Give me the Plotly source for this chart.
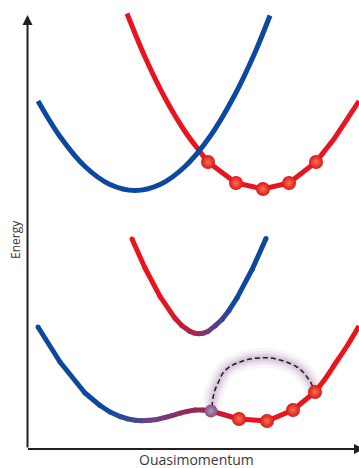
import plotly.graph_objects as go

# ---- Schematic band structure: quasimomentum k vs energy E (arbitrary units) ----

# Upper panel: two uncoupled bands
blue_k = [38, 60, 85, 110, 135, 160, 185, 210, 235, 255, 270]
blue_E = [367, 331.5, 301.5, 283.5, 277.5, 283.5, 301.5, 331.5, 373.5, 415.5, 452.5]

red_left_k = [127, 145, 165, 185, 199, 208]
red_left_E = [454.5, 411, 370, 336.5, 317.6, 306]
lattice_k = [208, 236, 263, 289, 316]
lattice_E = [306, 285, 279, 285, 306]
red_right_k = [316, 325, 335, 345, 359]
red_right_E = [306, 317.6, 330.5, 345.6, 367]

# Lower panel: coupled bands (avoided crossing)
upper_k = [132, 145, 160, 175, 182, 190, 195, 199, 203, 208, 215, 222, 229, 237, 252, 266]
upper_E = [229, 200, 171.6, 149.7, 142.3, 136.6, 134.7, 134.2, 134.7, 136.6, 142.1,
           148.5, 157.6, 170.1, 198.3, 229.5]

lower_k = [38, 60, 85, 100, 110, 120, 127, 135, 142, 150, 157, 165, 172, 180, 187, 195, 203, 211]
lower_E = [141, 106, 75, 62.5, 56, 51.5, 49.3, 47.8, 47.3, 47.7, 48.6, 50.5, 52.4, 54.8,
           56.6, 58, 58.1, 57]
lower_lattice_k = [211, 239, 267, 293, 315]
lower_lattice_E = [57, 49, 47, 58, 76]
lower_right_k = [315, 325, 335, 347, 359]
lower_right_E = [76, 89, 104, 122, 142]

# Tunnelling path between the mixed state and the red lattice state
tunnel_k = [212, 213, 215, 219, 223, 231, 240, 250, 260, 270, 280, 289, 297, 303, 307, 311, 315]
tunnel_E = [61, 70, 78, 87, 95, 102, 106, 109, 110, 110, 108, 105, 101, 96, 91, 85, 76]

# Axis extents
axis_k0 = 27.5
axis_E0 = 19
axis_E1 = 453
axis_k1 = 364

BLUE = (12, 72, 160)
RED = (232, 20, 30)
LW = 5


def rgb(c):
    return "rgb(%d,%d,%d)" % tuple(int(round(v)) for v in c)


def color_at(k, stops):
    if k <= stops[0][0]:
        return stops[0][1]
    if k >= stops[-1][0]:
        return stops[-1][1]
    for (k0, c0), (k1, c1) in zip(stops[:-1], stops[1:]):
        if k0 <= k <= k1:
            t = (k - k0) / (k1 - k0)
            return tuple(a + (b - a) * t for a, b in zip(c0, c1))
    return stops[-1][1]


fig = go.Figure()


def solid(k, E, color, shape="spline"):
    fig.add_trace(go.Scatter(x=k, y=E, mode="lines",
                             line=dict(color=rgb(color), width=LW, shape=shape),
                             hoverinfo="skip", showlegend=False))


def graded(k, E, stops):
    for i in range(len(k) - 1):
        c = color_at(0.5 * (k[i] + k[i + 1]), stops)
        fig.add_trace(go.Scatter(x=[k[i], k[i + 1]], y=[E[i], E[i + 1]], mode="lines",
                                 line=dict(color=rgb(c), width=LW),
                                 hoverinfo="skip", showlegend=False))
    fig.add_trace(go.Scatter(x=k, y=E, mode="markers",
                             marker=dict(size=LW, color=[rgb(color_at(v, stops)) for v in k],
                                         line=dict(width=0)),
                             hoverinfo="skip", showlegend=False))


# --- upper panel ---
solid(red_left_k, red_left_E, RED)
solid(lattice_k, lattice_E, RED, shape="linear")
solid(red_right_k, red_right_E, RED)
solid(blue_k, blue_E, BLUE)

# --- lower panel: soft glow around the tunnelling path ---
for w, a in [(20, 0.06), (14, 0.09), (9, 0.12), (5, 0.15)]:
    fig.add_trace(go.Scatter(x=tunnel_k, y=tunnel_E, mode="lines",
                             line=dict(color="rgba(145,105,160,%.2f)" % a, width=w, shape="spline"),
                             hoverinfo="skip", showlegend=False))

upper_stops = [(165, RED), (192, (170, 35, 75)), (205, (125, 55, 120)),
               (220, (70, 65, 150)), (235, BLUE)]
graded(upper_k, upper_E, upper_stops)

lower_stops = [(105, BLUE), (150, (105, 68, 140)), (190, (150, 40, 90)), (211, (165, 35, 75))]
graded(lower_k, lower_E, lower_stops)

lat_stops = [(211, (175, 30, 65)), (239, RED)]
graded(lower_lattice_k[:2], lower_lattice_E[:2], lat_stops)
solid(lower_lattice_k[1:], lower_lattice_E[1:], RED, shape="linear")
solid(lower_right_k, lower_right_E, RED)

fig.add_trace(go.Scatter(x=tunnel_k, y=tunnel_E, mode="lines",
                         line=dict(color="#1e1e1e", width=1.5, dash="5px,3px", shape="spline"),
                         hoverinfo="skip", showlegend=False))

# --- atoms ---
red_ball = dict(size=14, color="rgb(215,25,25)", line=dict(width=0),
                gradient=dict(type="radial", color="rgb(255,110,80)"))
fig.add_trace(go.Scatter(x=lattice_k, y=lattice_E, mode="markers", marker=red_ball,
                         hoverinfo="skip", showlegend=False))
fig.add_trace(go.Scatter(x=lower_lattice_k[1:], y=lower_lattice_E[1:], mode="markers",
                         marker=red_ball, hoverinfo="skip", showlegend=False))
fig.add_trace(go.Scatter(x=lower_lattice_k[:1], y=lower_lattice_E[:1], mode="markers",
                         marker=dict(size=13, color="rgb(125,80,128)", line=dict(width=0),
                                     gradient=dict(type="radial", color="rgb(185,150,185)")),
                         hoverinfo="skip", showlegend=False))

# --- axes with arrowheads ---
fig.add_annotation(x=axis_k0, y=axis_E1, ax=axis_k0, ay=axis_E0,
                   xref="x", yref="y", axref="x", ayref="y", text="",
                   showarrow=True, arrowhead=2, arrowsize=1, arrowwidth=2,
                   arrowcolor="#231f20")
fig.add_annotation(x=axis_k1, y=axis_E0, ax=axis_k0 - 1, ay=axis_E0,
                   xref="x", yref="y", axref="x", ayref="y", text="",
                   showarrow=True, arrowhead=2, arrowsize=1, arrowwidth=2,
                   arrowcolor="#231f20")

fig.add_annotation(x=15, y=228, xref="x", yref="y", text="Energy", textangle=-90,
                   showarrow=False, font=dict(family="Open Sans", size=12, color="#3a3a3a"))
fig.add_annotation(x=196, y=9, xref="x", yref="y", text="Ouasimomentum",
                   showarrow=False, font=dict(family="Open Sans", size=14, color="#3a3a3a"))

fig.update_layout(
    width=359, height=468,
    margin=dict(l=0, r=0, t=0, b=0),
    paper_bgcolor="white", plot_bgcolor="white",
    xaxis=dict(range=[0, 359], visible=False, fixedrange=True),
    yaxis=dict(range=[0, 468], visible=False, fixedrange=True),
    showlegend=False,
)

fig.write_html("out.html")
